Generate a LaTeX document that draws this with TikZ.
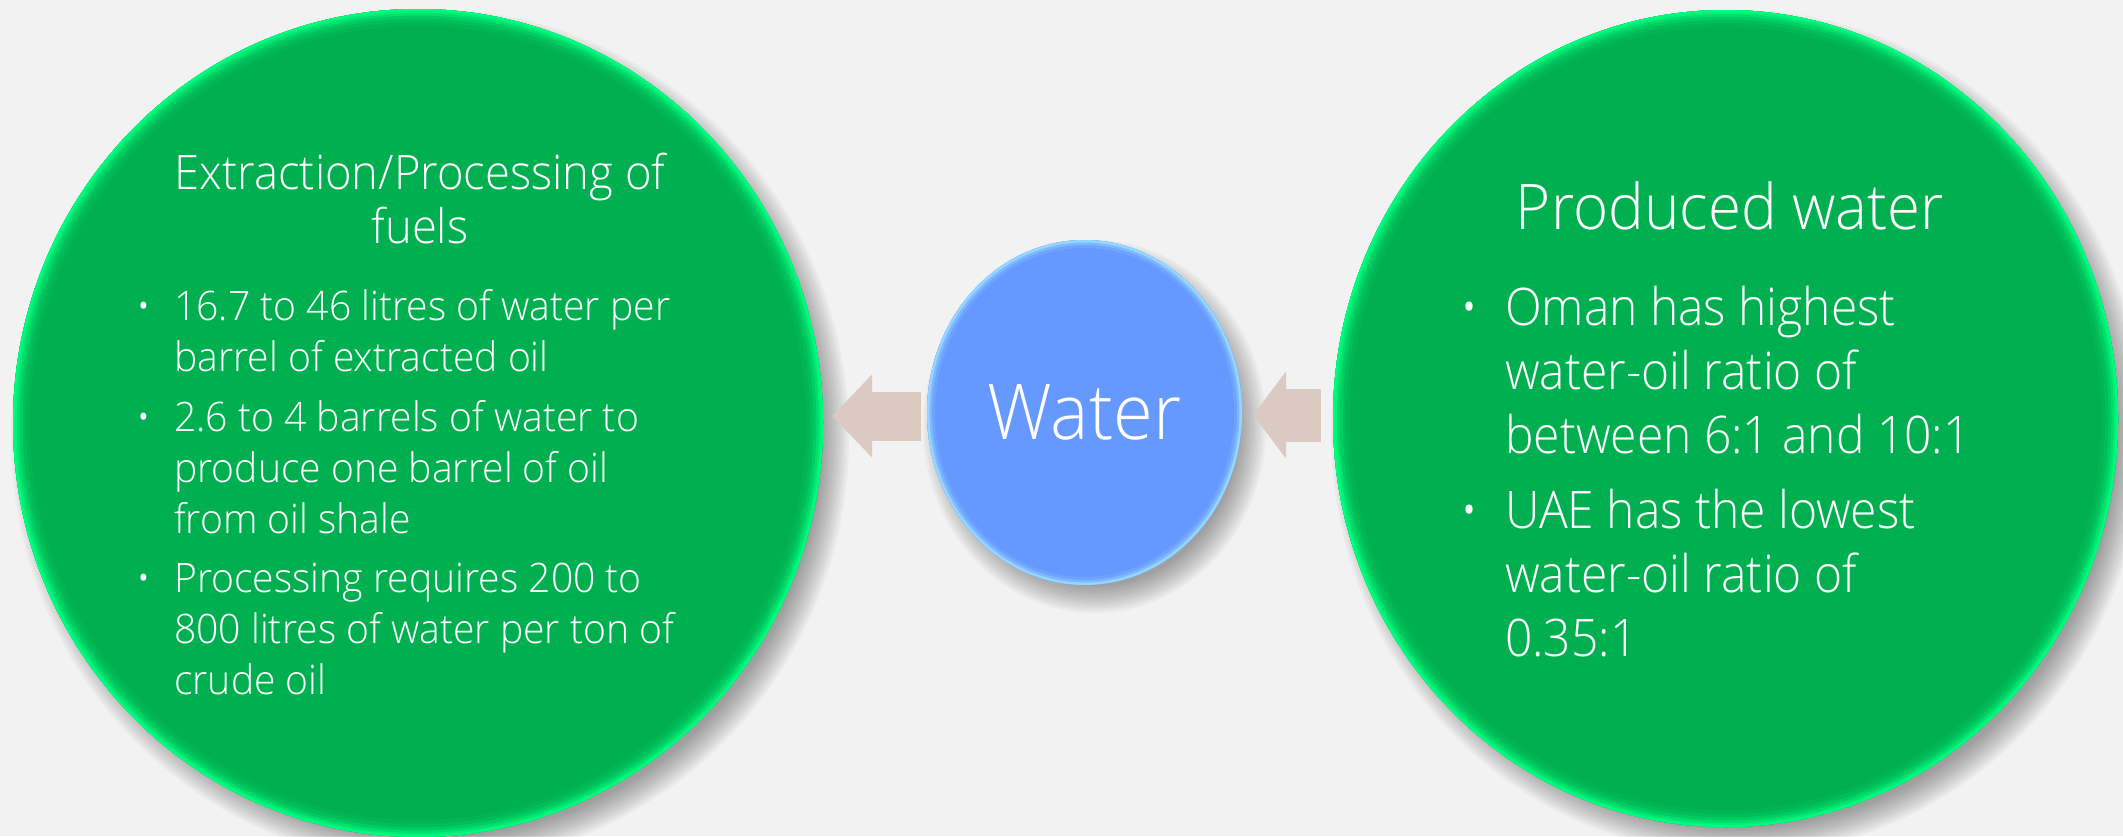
\documentclass[tikz,border=0pt]{standalone}
\usepackage{fontspec}
\setmainfont{Open Sans Light}
\newfontfamily\leftfont{Open Sans Light}[FakeStretch=0.963]
\newfontfamily\rightfont{Open Sans Light}[FakeStretch=0.925]
\newfontfamily\titlefont{Open Sans Light}[FakeStretch=0.953]
\newfontfamily\waterfont{Open Sans Light}[FakeStretch=0.94]
\usetikzlibrary{shapes.geometric,arrows.meta,calc,backgrounds}

\definecolor{pagegray}{HTML}{F2F2F2}
\definecolor{leafgreen}{HTML}{00B050}
\definecolor{glowgreen}{HTML}{00FF80}
\definecolor{dropblue}{HTML}{6699FF}
\definecolor{glowblue}{HTML}{A8F0FF}
\definecolor{arrowtan}{HTML}{DBCAC2}

\tikzset{
  greenbubble/.style 2 args={ellipse, inner sep=0pt, minimum width=#1, minimum height=#2,
    fill=leafgreen, path picture={
      \foreach \w/\c in {34/6,26/18,19/36,13/58,8/80,4/98}
        \draw[glowgreen!\c!leafgreen, line width=\w pt] (path picture bounding box.center)
          ellipse [x radius=#1*0.5, y radius=#2*0.5];
    }},
  bluebubble/.style 2 args={ellipse, inner sep=0pt, minimum width=#1, minimum height=#2,
    fill=dropblue, path picture={
      \foreach \w/\c in {16/12,10/35,5/70}
        \draw[glowblue!\c!dropblue, line width=\w pt] (path picture bounding box.center)
          ellipse [x radius=#1*0.5, y radius=#2*0.5];
    }},
  bubbletext/.style={text=white, inner sep=0pt},
  flowarrow/.style={arrowtan, line width=#1}
}

\begin{document}
\begin{tikzpicture}[x=1pt,y=-1pt]
\useasboundingbox (0,0) rectangle (2123,836);

% circles
\node[greenbubble={810}{828}] (left) at (418,423) {};
\node[greenbubble={785}{817}] (right) at (1725.5,418.5) {};
\node[bluebubble={315}{345}, bubbletext, font=\waterfont\fontsize{77}{90}\selectfont] (water) at (1084.5,412.5) {Water};

% arrows
\draw[flowarrow=49pt, -{Triangle[length=40pt,width=81pt]}] ($(water.west)+(-6,3.5)$) -- ($(water.west -| left.east)+(9,3.5)$);
\draw[flowarrow=53pt, -{Triangle[length=33pt,width=86pt]}] ($(right.west)+(-12,-3.5)$) -- ($(right.west -| water.east)+(11,-3.5)$);

% left text
\node[bubbletext, align=center, anchor=north, font=\titlefont\fontsize{47.6}{54}\selectfont] (lefttitle) at (420,149)
  {\rule{0pt}{40pt}Extraction/Processing of\\fuels};
\node[bubbletext, align=left, anchor=north west, font=\leftfont\fontsize{40.6}{51}\selectfont] (leftlist) at (136,280)
  {\rule{0pt}{40pt}\makebox[38pt][l]{\textbullet}16.7 to 46 litres of water per\\
   \hspace*{38pt}barrel of extracted oil\\[9pt]
   \makebox[38pt][l]{\textbullet}2.6 to 4 barrels of water to\\
   \hspace*{38pt}produce one barrel of oil\\
   \hspace*{38pt}from oil shale\\[8pt]
   \makebox[38pt][l]{\textbullet}Processing requires 200 to\\
   \hspace*{38pt}800 litres of water per ton of\\
   \hspace*{38pt}crude oil};

% right text
\node[bubbletext, anchor=base, font=\titlefont\fontsize{63}{72}\selectfont] (righttitle) at (1730,229) {Produced water};
\node[bubbletext, align=left, anchor=north west, font=\rightfont\fontsize{51.8}{64}\selectfont] (rightlist) at (1460,275)
  {\rule{0pt}{50pt}\makebox[45pt][l]{\textbullet}Oman has highest\\
   \hspace*{45pt}water-oil ratio of\\
   \hspace*{45pt}between 6:1 and 10:1\\[11pt]
   \makebox[45pt][l]{\textbullet}UAE has the lowest\\
   \hspace*{45pt}water-oil ratio of\\
   \hspace*{45pt}0.35:1};

% page and shadows
\begin{scope}[on background layer]
  \fill[pagegray] (0,0) rectangle (2123,836);
  \foreach \k in {0,...,11} {
    \fill[black, opacity=0.032] ([shift={(12,14)}]left.center) ellipse [x radius={405+14-2.4*\k}, y radius={414+14-2.4*\k}];
    \fill[black, opacity=0.032] ([shift={(12,14)}]right.center) ellipse [x radius={392.5+14-2.4*\k}, y radius={408.5+14-2.4*\k}];
    \fill[black, opacity=0.032] ([shift={(10,14)}]water.center) ellipse [x radius={157.5+14-2.4*\k}, y radius={172.5+14-2.4*\k}];
  }
\end{scope}
\end{tikzpicture}
\end{document}
